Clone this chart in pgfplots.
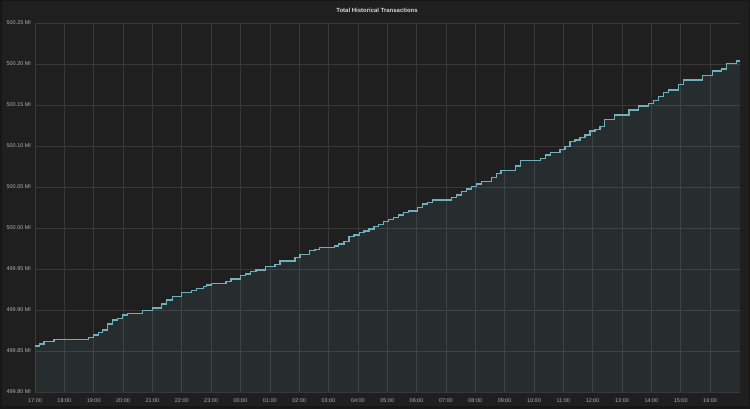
\documentclass[border=0pt]{standalone}
\usepackage{pgfplots}
\pgfplotsset{compat=1.18}
\usepackage{pgfplotstable}
\usepackage{fontspec}
\setmainfont{Liberation Sans}

\definecolor{bg}{HTML}{1F1F1F}
\definecolor{edge}{HTML}{171717}
\definecolor{gridc}{HTML}{383838}
\definecolor{tickc}{HTML}{B0B0B0}
\definecolor{titlec}{HTML}{D8D8D8}
\definecolor{linec}{HTML}{6FB0BA}

% hours since 17:00, total transactions (millions)
\pgfplotstableread{
h v
0.00 499.8561
0.14 499.8585
0.31 499.8613
0.65 499.8643
1.82 499.8667
1.99 499.8695
2.16 499.8723
2.31 499.8756
2.46 499.8829
2.65 499.8878
2.80 499.8899
2.99 499.8939
3.14 499.8960
3.67 499.8996
4.01 499.9024
4.32 499.9073
4.49 499.9122
4.69 499.9162
5.00 499.9211
5.34 499.9235
5.51 499.9265
5.73 499.9284
5.84 499.9305
6.02 499.9326
6.51 499.9345
6.68 499.9378
7.01 499.9423
7.18 499.9439
7.35 499.9467
7.53 499.9488
7.84 499.9528
8.18 499.9557
8.35 499.9598
8.86 499.9643
9.03 499.9679
9.35 499.9723
9.54 499.9740
9.68 499.9760
10.20 499.9780
10.33 499.9805
10.53 499.9833
10.70 499.9894
10.87 499.9915
11.05 499.9943
11.21 499.9963
11.38 499.9988
11.55 500.0016
11.70 500.0045
11.87 500.0077
12.04 500.0106
12.21 500.0130
12.38 500.0159
12.55 500.0187
12.72 500.0207
13.03 500.0248
13.20 500.0293
13.37 500.0313
13.54 500.0341
14.20 500.0374
14.37 500.0402
14.54 500.0443
14.71 500.0476
14.88 500.0504
15.05 500.0537
15.22 500.0565
15.54 500.0613
15.71 500.0667
15.88 500.0699
16.38 500.0756
16.55 500.0821
17.21 500.0850
17.38 500.0890
17.55 500.0918
17.89 500.0960
18.06 500.0991
18.23 500.1052
18.40 500.1073
18.57 500.1101
18.74 500.1134
18.91 500.1183
19.08 500.1204
19.25 500.1235
19.40 500.1326
19.74 500.1378
20.24 500.1439
20.56 500.1488
20.90 500.1521
21.07 500.1552
21.24 500.1601
21.41 500.1655
21.58 500.1683
21.92 500.1752
22.09 500.1805
22.75 500.1857
23.09 500.1915
23.40 500.1939
23.57 500.2009
23.91 500.2037
24.02 500.2037
}\txdata

\begin{document}
\begin{tikzpicture}
\fill[edge] (0,0) rectangle (750bp,409bp);
\fill[bg] (1.5bp,2.5bp) rectangle (748.5bp,407.5bp);
\begin{axis}[
    at={(35bp,17bp)}, anchor=south west,
    scale only axis,
    width=705bp, height=369bp,
    xmin=0, xmax=24.02,
    ymin=499.80, ymax=500.25,
    xtick={0,1,...,23},
    xticklabels={17:00,18:00,19:00,20:00,21:00,22:00,23:00,00:00,01:00,02:00,03:00,04:00,05:00,06:00,07:00,08:00,09:00,10:00,11:00,12:00,13:00,14:00,15:00,16:00},
    ytick={499.80,499.85,499.90,499.95,500.00,500.05,500.10,500.15,500.20,500.25},
    yticklabel={\pgfmathprintnumber[fixed,precision=2,zerofill]{\tick}~MI},
    /pgf/number format/assume math mode=true,
    grid=major,
    major grid style={draw=gridc, line width=0.6bp},
    axis line style={draw=none},
    major tick length=0pt,
    tick label style={font=\fontsize{5.5}{6}\selectfont, text=tickc},
    xticklabel style={yshift=-3bp},
    yticklabel style={xshift=-0.5bp},
]
\addplot[const plot, draw=none, fill=linec, fill opacity=0.1] table[x=h, y=v] {\txdata} \closedcycle;
\addplot[const plot, draw=linec, line width=1.2bp] table[x=h, y=v] {\txdata};
\end{axis}
\node[text=titlec, font=\fontsize{6}{7}\selectfont\bfseries] at (377bp,399bp) {Total Historical Transactions};
\end{tikzpicture}
\end{document}
